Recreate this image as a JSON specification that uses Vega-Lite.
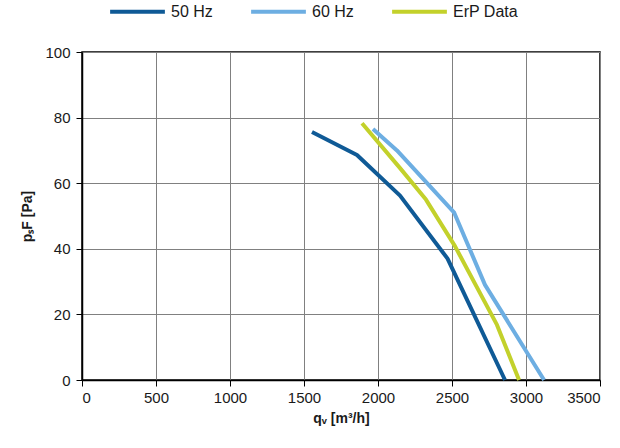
{
  "$schema": "https://vega.github.io/schema/vega-lite/v6.json",
  "width": 518,
  "height": 328,
  "autosize": "none",
  "padding": {"left": 82, "top": 52, "right": 20, "bottom": 68},
  "background": "white",
  "config": {
    "font": "Liberation Sans, Arial",
    "view": {"stroke": "black", "strokeWidth": 1.5},
    "axis": {
      "labelFontSize": 15, "labelColor": "#1a1a1a",
      "titleFontSize": 14, "titleFontWeight": "bold", "titleColor": "#1a1a1a",
      "gridColor": "#808080", "gridWidth": 1, "gridOpacity": 1,
      "domainColor": "black", "domainWidth": 1.5,
      "tickColor": "black", "tickSize": 6
    }
  },
  "data": {"values": [
    {"s": "50 Hz", "q": 1554, "p": 75.6},
    {"s": "50 Hz", "q": 1858, "p": 68.6},
    {"s": "50 Hz", "q": 2149, "p": 56.2},
    {"s": "50 Hz", "q": 2470, "p": 37.0},
    {"s": "50 Hz", "q": 2858, "p": 0},
    {"s": "60 Hz", "q": 1966, "p": 76.5},
    {"s": "60 Hz", "q": 2128, "p": 70},
    {"s": "60 Hz", "q": 2515, "p": 51},
    {"s": "60 Hz", "q": 2723, "p": 29},
    {"s": "60 Hz", "q": 3122, "p": 0},
    {"s": "ErP Data", "q": 1892, "p": 78.3},
    {"s": "ErP Data", "q": 2149, "p": 64.6},
    {"s": "ErP Data", "q": 2324, "p": 55},
    {"s": "ErP Data", "q": 2520, "p": 40.8},
    {"s": "ErP Data", "q": 2804, "p": 16.8},
    {"s": "ErP Data", "q": 2953, "p": 0}
  ]},
  "mark": {"type": "line", "strokeWidth": 4, "strokeCap": "butt", "strokeJoin": "round"},
  "encoding": {
    "x": {"field": "q", "type": "quantitative",
      "scale": {"domain": [0, 3500], "nice": false},
      "axis": {"values": [0,500,1000,1500,2000,2500,3000,3500], "format": "d", "title": "qᵥ [m³/h]", "titlePadding": 6, "labelPadding": 4}},
    "y": {"field": "p", "type": "quantitative",
      "scale": {"domain": [0, 100], "nice": false},
      "axis": {"values": [0,20,40,60,80,100], "title": "pₛF [Pa]", "titlePadding": 10, "labelPadding": 6}},
    "color": {"field": "s", "type": "nominal",
      "scale": {"domain": ["50 Hz", "60 Hz", "ErP Data"], "range": ["#0F5A96", "#6DAEE2", "#C3D12B"]},
      "legend": {"title": null, "orient": "none", "legendX": 26, "legendY": -70, "direction": "horizontal", "symbolType": "stroke",
        "symbolSize": 3000, "symbolStrokeWidth": 4, "labelFontSize": 16, "labelColor": "#1a1a1a",
        "gridAlign": "all", "columnPadding": 7, "labelOffset": 4}},
    "detail": {"field": "s"}
  }
}
